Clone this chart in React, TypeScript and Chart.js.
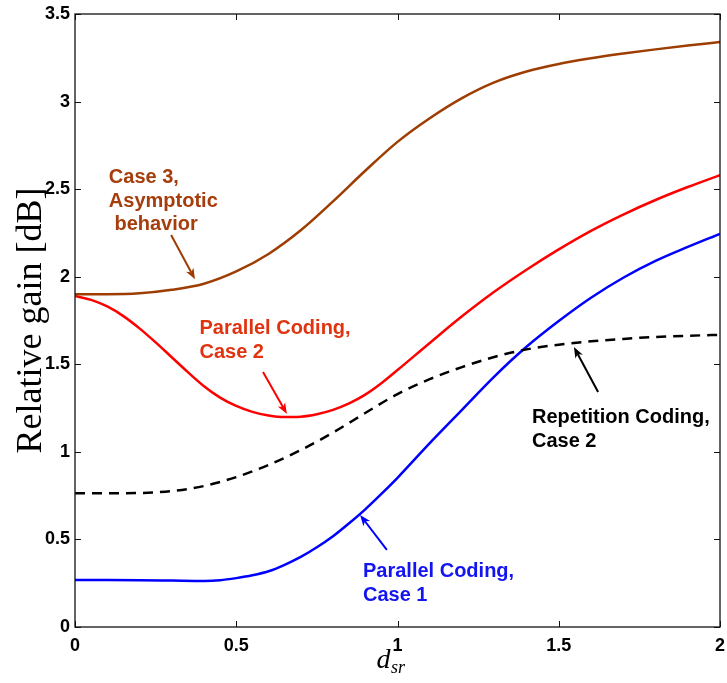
import React, { useEffect, useRef } from "react";
import { Chart, registerables } from "chart.js";

Chart.register(...registerables);

// ---- data ----
const xTicks = [0, 0.5, 1, 1.5, 2];
const yTicks = [0, 0.5, 1, 1.5, 2, 2.5, 3, 3.5];

const case3X = [0, 0.1, 0.2, 0.3, 0.4, 0.5, 0.6, 0.7, 0.8, 0.9, 1.0, 1.1, 1.2, 1.3, 1.4, 1.5, 1.6, 1.7, 1.8, 1.9, 2.0];
const case3Y = [1.9, 1.9, 1.905, 1.925, 1.96, 2.03, 2.13, 2.265, 2.43, 2.605, 2.77, 2.905, 3.02, 3.11, 3.172, 3.215, 3.247, 3.274, 3.298, 3.32, 3.34];

const par2X = [0, 0.05, 0.1, 0.15, 0.2, 0.25, 0.3, 0.35, 0.4, 0.45, 0.5, 0.55, 0.6, 0.65, 0.7, 0.75, 0.8, 0.85, 0.9, 0.95, 1.0, 1.1, 1.2, 1.3, 1.4, 1.5, 1.6, 1.7, 1.8, 1.9, 2.0];
const par2Y = [1.89, 1.868, 1.83, 1.775, 1.705, 1.625, 1.54, 1.455, 1.375, 1.31, 1.262, 1.228, 1.208, 1.199, 1.201, 1.215, 1.24, 1.277, 1.327, 1.392, 1.467, 1.622, 1.774, 1.914, 2.04, 2.156, 2.262, 2.355, 2.438, 2.512, 2.58];

const rep2X = [0, 0.1, 0.2, 0.3, 0.4, 0.5, 0.6, 0.7, 0.8, 0.9, 1.0, 1.1, 1.2, 1.3, 1.4, 1.5, 1.6, 1.7, 1.8, 1.9, 2.0];
const rep2Y = [0.763, 0.763, 0.765, 0.776, 0.805, 0.856, 0.925, 1.01, 1.11, 1.222, 1.33, 1.415, 1.484, 1.542, 1.585, 1.612, 1.631, 1.645, 1.656, 1.663, 1.668];

const par1X = [0, 0.1, 0.2, 0.3, 0.4, 0.45, 0.5, 0.55, 0.6, 0.65, 0.7, 0.75, 0.8, 0.85, 0.9, 0.95, 1.0, 1.1, 1.2, 1.3, 1.4, 1.5, 1.6, 1.7, 1.8, 1.9, 2.0];
const par1Y = [0.268, 0.268, 0.267, 0.265, 0.263, 0.267, 0.279, 0.295, 0.318, 0.355, 0.4, 0.455, 0.518, 0.592, 0.672, 0.76, 0.852, 1.05, 1.24, 1.43, 1.6, 1.747, 1.88, 1.994, 2.09, 2.17, 2.245];

const BROWN = "#9E3D02";
const BROWN_TXT = "#A63D0C";
const RED = "#FF0000";
const RED_TXT = "#E0330F";
const BLUE = "#0000FF";
const BLUE_TXT = "#1414F0";

type Note = {
  lines: string[];
  tx: number; ty: number; // text anchor (data coords, first baseline)
  ax1: number; ay1: number; ax2: number; ay2: number; // arrow tail -> tip (data coords)
  color: string; textColor: string;
};

const notes: Note[] = [
  { lines: ["Case 3,", "Asymptotic", " behavior"], tx: 0.105, ty: 2.535, ax1: 0.298, ay1: 2.238, ax2: 0.372, ay2: 1.985, color: BROWN, textColor: BROWN_TXT },
  { lines: ["Parallel Coding,", "Case 2"], tx: 0.386, ty: 1.673, ax1: 0.583, ay1: 1.456, ax2: 0.657, ay2: 1.216, color: RED, textColor: RED_TXT },
  { lines: ["Repetition Coding,", "Case 2"], tx: 1.417, ty: 1.165, ax1: 1.622, ay1: 1.342, ax2: 1.547, ay2: 1.599, color: "#000000", textColor: "#000000" },
  { lines: ["Parallel Coding,", "Case 1"], tx: 0.893, ty: 0.285, ax1: 0.967, ay1: 0.44, ax2: 0.884, ay2: 0.64, color: BLUE, textColor: BLUE_TXT },
];

const toPts = (xs: number[], ys: number[]) => xs.map((x, i) => ({ x, y: ys[i] }));

const SANS = "'Liberation Sans', Arial, Helvetica, sans-serif";
const SERIF = "'Liberation Serif', 'Times New Roman', serif";

function drawArrow(ctx: CanvasRenderingContext2D, x1: number, y1: number, x2: number, y2: number, color: string) {
  const ang = Math.atan2(y2 - y1, x2 - x1);
  const L = 11, W = 4.2, notch = 3;
  const c = Math.cos(ang), s = Math.sin(ang);
  ctx.save();
  ctx.strokeStyle = color;
  ctx.fillStyle = color;
  ctx.lineWidth = 2;
  ctx.beginPath();
  ctx.moveTo(x1, y1);
  ctx.lineTo(x2 - c * (L - notch), y2 - s * (L - notch));
  ctx.stroke();
  const bx = x2 - c * L, by = y2 - s * L;
  ctx.beginPath();
  ctx.moveTo(x2, y2);
  ctx.lineTo(bx - s * W, by + c * W);
  ctx.lineTo(x2 - c * (L - notch), y2 - s * (L - notch));
  ctx.lineTo(bx + s * W, by - c * W);
  ctx.closePath();
  ctx.fill();
  ctx.restore();
}

const decorPlugin = {
  id: "decor",
  afterDraw(chart: any) {
    const { ctx, chartArea, scales } = chart;
    const xs = scales.x, ys = scales.y;
    const { left, right, top, bottom } = chartArea;
    ctx.save();
    // box
    ctx.strokeStyle = "#111";
    ctx.lineWidth = 1.3;
    ctx.strokeRect(left, top, right - left, bottom - top);
    // inward tick marks
    const tl = 6;
    ctx.beginPath();
    xTicks.forEach((v) => {
      const px = Math.round(xs.getPixelForValue(v)) + 0.5;
      ctx.moveTo(px, bottom); ctx.lineTo(px, bottom - tl);
      ctx.moveTo(px, top); ctx.lineTo(px, top + tl);
    });
    yTicks.forEach((v) => {
      const py = Math.round(ys.getPixelForValue(v)) + 0.5;
      ctx.moveTo(left, py); ctx.lineTo(left + tl, py);
      ctx.moveTo(right, py); ctx.lineTo(right - tl, py);
    });
    ctx.lineWidth = 1;
    ctx.stroke();

    // annotations
    notes.forEach((n) => {
      ctx.font = `bold 20px ${SANS}`;
      ctx.fillStyle = n.textColor;
      ctx.textAlign = "left";
      ctx.textBaseline = "alphabetic";
      const tx = xs.getPixelForValue(n.tx);
      const ty = ys.getPixelForValue(n.ty);
      n.lines.forEach((line, i) => ctx.fillText(line, tx, ty + i * 23.7));
      drawArrow(ctx, xs.getPixelForValue(n.ax1), ys.getPixelForValue(n.ay1), xs.getPixelForValue(n.ax2), ys.getPixelForValue(n.ay2), n.color);
    });

    // x-axis title: d_sr
    const cx = (left + right) / 2;
    ctx.fillStyle = "#000";
    ctx.font = `italic 28px ${SERIF}`;
    const dx = cx - 21;
    ctx.fillText("d", dx, bottom + 41);
    const dw = ctx.measureText("d").width;
    ctx.font = `italic 18px ${SERIF}`;
    ctx.fillText("sr", dx + dw + 0.5, bottom + 46);
    ctx.restore();
  },
};

export default function App() {
  const ref = useRef<HTMLCanvasElement>(null);
  useEffect(() => {
    if (!ref.current) return;
    const line = (label: string, xs: number[], ys: number[], color: string, dash: number[] = []) => ({
      label,
      data: toPts(xs, ys),
      borderColor: color,
      backgroundColor: color,
      borderWidth: 2.5,
      borderDash: dash,
      pointRadius: 0,
      cubicInterpolationMode: "monotone" as const,
      fill: false,
    });
    const tickFont = { family: SANS, size: 18, weight: "bold" as const };
    const chart = new Chart(ref.current, {
      type: "line",
      data: {
        datasets: [
          line("Case 3, Asymptotic behavior", case3X, case3Y, BROWN),
          line("Parallel Coding, Case 2", par2X, par2Y, RED),
          line("Repetition Coding, Case 2", rep2X, rep2Y, "#000000", [10, 7]),
          line("Parallel Coding, Case 1", par1X, par1Y, BLUE),
        ],
      },
      options: {
        responsive: false,
        animation: false,
        devicePixelRatio: 1,
        layout: { padding: { left: 0, right: 7, top: 14, bottom: 0 } },
        plugins: { legend: { display: false }, tooltip: { enabled: false } },
        scales: {
          x: {
            type: "linear",
            min: 0,
            max: 2,
            afterBuildTicks: (s: any) => { s.ticks = xTicks.map((v) => ({ value: v })); },
            afterFit: (s: any) => { s.height = 56; s.paddingLeft = 0; s.paddingRight = 0; },
            grid: { display: false, drawTicks: false },
            border: { display: false },
            ticks: { color: "#000", font: tickFont, padding: 8, maxRotation: 0, callback: (v: any) => String(Number(v)) },
          },
          y: {
            type: "linear",
            min: 0,
            max: 3.5,
            afterBuildTicks: (s: any) => { s.ticks = yTicks.map((v) => ({ value: v })); },
            afterFit: (s: any) => { s.width = 75; s.paddingTop = 0; s.paddingBottom = 0; },
            grid: { display: false, drawTicks: false },
            border: { display: false },
            ticks: { color: "#000", font: tickFont, padding: 5, callback: (v: any) => String(Number(v)) },
            title: {
              display: true,
              text: "Relative gain [dB]",
              color: "#000",
              font: { family: SERIF, size: 36, weight: "normal" },
              padding: { top: 10, bottom: 0 },
            },
          },
        },
      },
      plugins: [decorPlugin],
    });
    return () => chart.destroy();
  }, []);
  return (
    <div style={{ position: "absolute", left: 0, top: 0, width: 727, height: 683, background: "#fff" }}>
      <canvas ref={ref} width={727} height={683} style={{ display: "block" }} />
    </div>
  );
}
